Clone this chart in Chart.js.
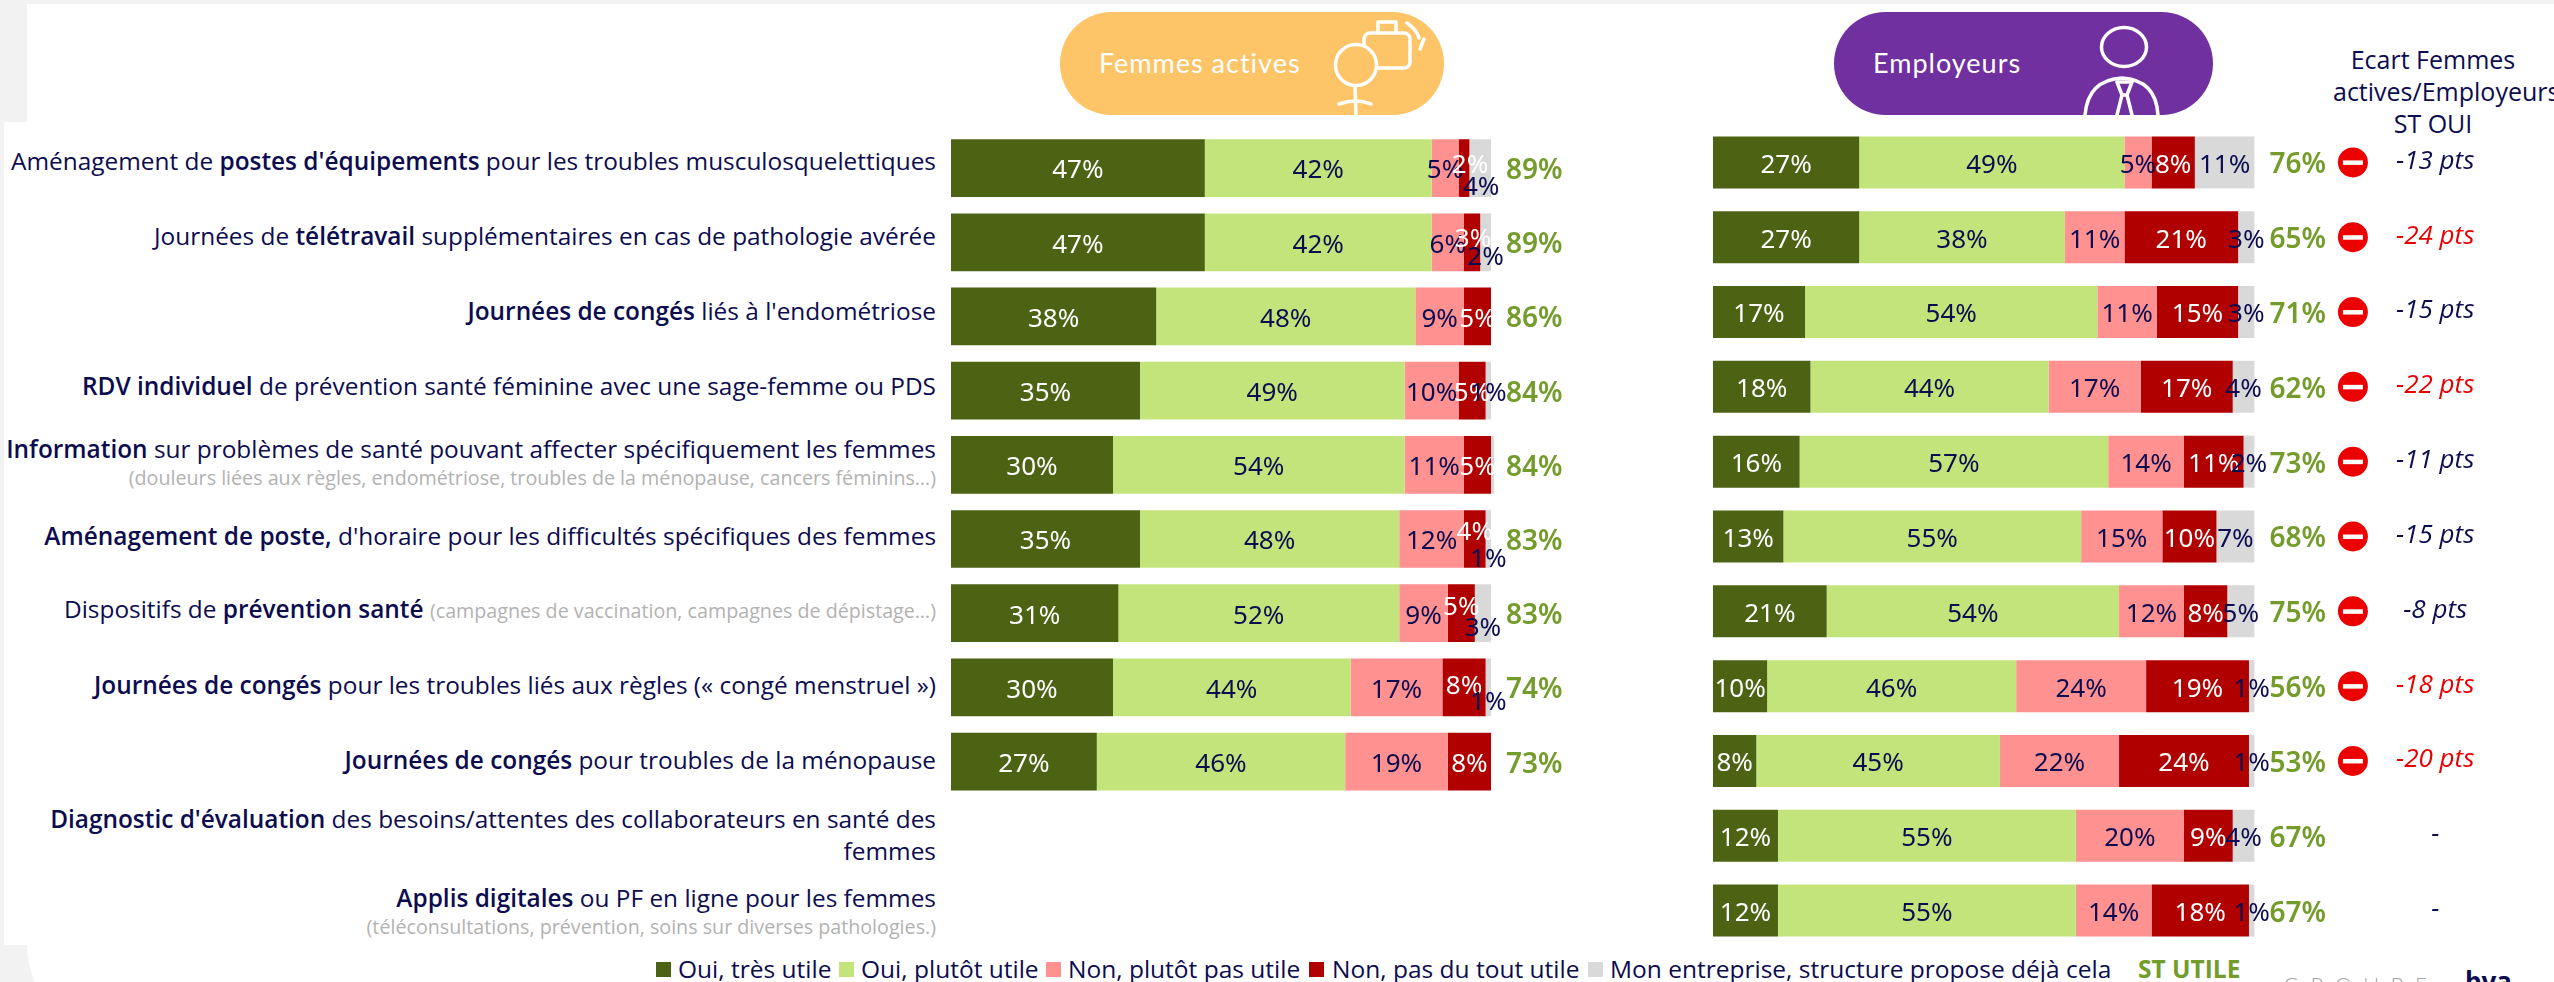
<!DOCTYPE html>
<html lang="fr">
<head>
<meta charset="utf-8">
<title>Femmes actives / Employeurs</title>
<script src="https://cdn.jsdelivr.net/npm/chart.js@4/dist/chart.umd.min.js"></script>
<style>
html, body { margin: 0; padding: 0; width: 2554px; height: 982px; overflow: hidden; background: #f2f2f2; }
body { position: relative; font-family: "Open Sans", sans-serif; color: #0c0c50; }
.abs { position: absolute; }
#fond1 { position: absolute; left: 27px; top: 4px; width: 2527px; height: 1040px; background: #fff; border-bottom-left-radius: 100px; }
#fond2 { position: absolute; left: 4px; top: 122px; width: 100px; height: 823px; background: #fff; }
canvas { position: absolute; }
.pill { position: absolute; top: 12px; height: 103px; border-radius: 52px; }
.pill span { position: absolute; color: #fff; font-family: Lato, sans-serif; font-size: 27px; letter-spacing: 1px; white-space: nowrap; transform: translateY(-50%); }
.pill svg { position: absolute; left: 0; top: 0; }
.ligne { position: absolute; left: 6px; width: 930px; text-align: right; font-size: 24.4px; line-height: 32px; transform: translateY(-50%); margin-top: -1px; white-space: nowrap; }
.ligne b { font-weight: 600; }
.sous { color: #b2b2b2; font-size: 19.7px; }
.sousbloc { display: block; line-height: 25px; }
#ecart { position: absolute; left: 2333px; width: 200px; top: 43px; text-align: center; font-size: 25px; line-height: 32px; white-space: nowrap; }
.carre { position: absolute; top: 962px; width: 15px; height: 15px; }
.leg { position: absolute; top: 969px; font-size: 24.5px; line-height: 26px; transform: translateY(-50%); white-space: nowrap; }
</style>
</head>
<body>
<div id="fond1"></div>
<div id="fond2"></div>

<div class="pill" style="left:1060px;width:384px;background:#fdc567">
  <span style="left:39px;top:50px">Femmes actives</span>
  <svg width="384" height="103" fill="none" stroke="#fff" stroke-width="3.5" stroke-linecap="round" stroke-linejoin="round">
    <path d="M318 19V10H336V20"/>
    <rect x="304" y="21" width="46" height="35" rx="6"/>
    <path d="M347 11Q357 18 359 26M364 27L360 37"/>
    <circle cx="296" cy="53" r="20.5" fill="#fdc567"/>
    <path d="M295 74L296 103M279 92Q296 86 311 92"/>
  </svg>
</div>
<div class="pill" style="left:1834px;width:379px;background:#7030a0">
  <span style="left:39px;top:50px">Employeurs</span>
  <svg width="379" height="103" fill="none" stroke="#fff" stroke-width="3.5" stroke-linecap="round" stroke-linejoin="round">
    <ellipse cx="290" cy="35" rx="22.5" ry="19.5"/>
    <path d="M251 103Q254 68 288 66Q322 68 324 103"/>
    <path d="M283 70H298L293 83L298 103M288 83L283 103M283 70L288 83M293 83H288"/>
  </svg>
</div>
<div id="ecart">Ecart Femmes<br>actives/Employeurs<br>ST OUI</div>

<canvas id="femmes" style="left:951px;top:131px" width="648" height="816"></canvas>
<canvas id="employeurs" style="left:1713px;top:125px" width="785" height="823"></canvas>

<div class="abs" style="left:2283px;top:970px;font-size:22px;font-weight:300;letter-spacing:11.5px;color:#a8a8a8;white-space:nowrap">GROUPE</div>
<div class="abs" style="left:2465px;top:963px;font-size:26px;font-weight:700;color:#0c0c50;white-space:nowrap">bva</div>

<script>
const lignes = [
    "Aménagement de <b>postes d'équipements</b> pour les troubles musculosquelettiques",
    "Journées de <b>télétravail</b> supplémentaires en cas de pathologie avérée",
    "<b>Journées de congés</b> liés à l'endométriose",
    "<b>RDV individuel</b> de prévention santé féminine avec une sage-femme ou PDS",
    "<b>Information</b> sur problèmes de santé pouvant affecter spécifiquement les femmes<span class='sous sousbloc'>(douleurs liées aux règles, endométriose, troubles de la ménopause, cancers féminins…)</span>",
    "<b>Aménagement de poste,</b> d'horaire pour les difficultés spécifiques des femmes",
    "Dispositifs de <b>prévention santé</b> <span class='sous'>(campagnes de vaccination, campagnes de dépistage…)</span>",
    "<b>Journées de congés</b> pour les troubles liés aux règles (« congé menstruel »)",
    "<b>Journées de congés</b> pour troubles de la ménopause",
    "<b>Diagnostic d'évaluation</b> des besoins/attentes des collaborateurs en santé des<br>femmes",
    "<b>Applis digitales</b> ou PF en ligne pour les femmes<span class='sous sousbloc'>(téléconsultations, prévention, soins sur diverses pathologies.)</span>"
];
const series = ["Oui, très utile", "Oui, plutôt utile", "Non, plutôt pas utile", "Non, pas du tout utile", "Mon entreprise, structure propose déjà cela"];
const couleurs = ["#4b6312", "#c3e47b", "#ff9191", "#b00000", "#d9d9d9"];
const couleursTexte = ["#ffffff", "#0c0c50", "#0c0c50", "#ffffff", "#0c0c50"];

const femmesTresUtile = [47, 47, 38, 35, 30, 35, 31, 30, 27, null, null];
const femmesPlutotUtile = [42, 42, 48, 49, 54, 48, 52, 44, 46, null, null];
const femmesPlutotPas = [5, 6, 9, 10, 11, 12, 9, 17, 19, null, null];
const femmesPasDuTout = [2, 3, 5, 5, 5, 4, 5, 8, 8, null, null];
const femmesDeja = [4, 2, 0, 1, 0.6, 1, 3, 1, 0, null, null];
const femmesST = [89, 89, 86, 84, 84, 83, 83, 74, 73, null, null];

const employeursTresUtile = [27, 27, 17, 18, 16, 13, 21, 10, 8, 12, 12];
const employeursPlutotUtile = [49, 38, 54, 44, 57, 55, 54, 46, 45, 55, 55];
const employeursPlutotPas = [5, 11, 11, 17, 14, 15, 12, 24, 22, 20, 14];
const employeursPasDuTout = [8, 21, 15, 17, 11, 10, 8, 19, 24, 9, 18];
const employeursDeja = [11, 3, 3, 4, 2, 7, 5, 1, 1, 4, 1];
const employeursST = [76, 65, 71, 62, 73, 68, 75, 56, 53, 67, 67];

const ecarts = [-13, -24, -15, -22, -11, -15, -8, -18, -20, null, null];

// les petites etiquettes decalees a la main dans l'original : "ligne-serie": [dx, dy]
const decalages = {
    "0-3": [6, -5], "0-4": [1, 17],
    "1-3": [1, -6], "1-4": [0, 12],
    "5-3": [0, -9], "5-4": [0, 18],
    "6-3": [0, -9], "6-4": [0, 12],
    "7-3": [0, -4], "7-4": [0, 12]
};

const policeValeur = '26px "Noto Sans"';
const policeST = '600 28px "Noto Sans"';
const policeEcart = 'italic 26px "Open Sans"';

const etiquettes = {
    id: 'etiquettes',
    afterDatasetsDraw(chart, args, opts) {
        const ctx = chart.ctx;
        const x = chart.scales.x;
        const y = chart.scales.y;
        ctx.save();
        ctx.textAlign = 'center';
        ctx.textBaseline = 'middle';
        ctx.font = policeValeur;
        chart.data.datasets.forEach((ds, s) => {
            chart.getDatasetMeta(s).data.forEach((bar, i) => {
                if (ds.data[i] === null || ds.data[i] < 1) return;
                const d = (opts.decale && decalages[i + '-' + s]) || [0, 0];
                ctx.fillStyle = couleursTexte[s];
                ctx.fillText(ds.data[i] + '%', (bar.x + bar.base) / 2 + d[0], bar.y + 3 + d[1]);
            });
        });
        ctx.font = policeST;
        ctx.fillStyle = '#739c2b';
        opts.st.forEach((v, i) => {
            if (v !== null) ctx.fillText(v + '%', x.getPixelForValue(108), y.getPixelForValue(i) + 3);
        });
        if (opts.ecarts) {
            opts.ecarts.forEach((v, i) => {
                const py = y.getPixelForValue(i);
                ctx.font = policeEcart;
                ctx.fillStyle = (v !== null && v <= -18) ? '#e80000' : '#0c0c50';
                ctx.fillText(v === null ? '-' : v + ' pts', x.getPixelForValue(133.4), py - 1);
                if (v === null) return;
                const px = x.getPixelForValue(118.2);
                ctx.fillStyle = '#ec0000';
                ctx.beginPath();
                ctx.arc(px, py, 15, 0, Math.PI * 2);
                ctx.fill();
                ctx.fillStyle = '#ffffff';
                ctx.fillRect(px - 10, py - 2, 20, 4.5);
            });
        }
        ctx.restore();
    }
};

function creerGraphique(id, donnees, st, maxX, part, options) {
    const jeux = donnees.map((valeurs, s) => ({
        label: series[s],
        data: valeurs,
        backgroundColor: couleurs[s],
        borderWidth: 0,
        barPercentage: 1,
        categoryPercentage: part
    }));
    return new Chart(document.getElementById(id), {
        type: 'bar',
        data: { labels: lignes.map((l, i) => i), datasets: jeux },
        options: {
            indexAxis: 'y',
            responsive: false,
            animation: false,
            events: [],
            layout: { padding: 0 },
            scales: {
                x: { display: false, stacked: true, min: 0, max: maxX },
                y: { display: false, stacked: true }
            },
            plugins: {
                legend: { display: false },
                tooltip: { enabled: false },
                etiquettes: Object.assign({ st: st }, options)
            }
        },
        plugins: [etiquettes]
    });
}

function dessiner() {
    creerGraphique('femmes',
        [femmesTresUtile, femmesPlutotUtile, femmesPlutotPas, femmesPasDuTout, femmesDeja],
        femmesST, 120, 0.778, { decale: true });
    const droite = creerGraphique('employeurs',
        [employeursTresUtile, employeursPlutotUtile, employeursPlutotPas, employeursPasDuTout, employeursDeja],
        employeursST, 145, 0.695, { ecarts: ecarts });

    // les libelles suivent les lignes du graphique de droite
    lignes.forEach((texte, i) => {
        const div = document.createElement('div');
        div.className = 'ligne';
        div.style.top = (125 + droite.scales.y.getPixelForValue(i)) + 'px';
        div.innerHTML = texte;
        document.body.appendChild(div);
    });

    const xCarres = [656, 839, 1046, 1309, 1588];
    const xTextes = [678, 861, 1068, 1332, 1610];
    series.forEach((nom, s) => {
        const carre = document.createElement('div');
        carre.className = 'carre';
        carre.style.left = xCarres[s] + 'px';
        carre.style.background = couleurs[s];
        document.body.appendChild(carre);
        const leg = document.createElement('div');
        leg.className = 'leg';
        leg.style.left = xTextes[s] + 'px';
        leg.textContent = nom;
        document.body.appendChild(leg);
    });
    const total = document.createElement('div');
    total.className = 'leg';
    total.style.left = '2138px';
    total.style.color = '#739c2b';
    total.style.fontWeight = '700';
    total.textContent = 'ST UTILE';
    document.body.appendChild(total);
}

dessiner();
</script>
</body>
</html>
